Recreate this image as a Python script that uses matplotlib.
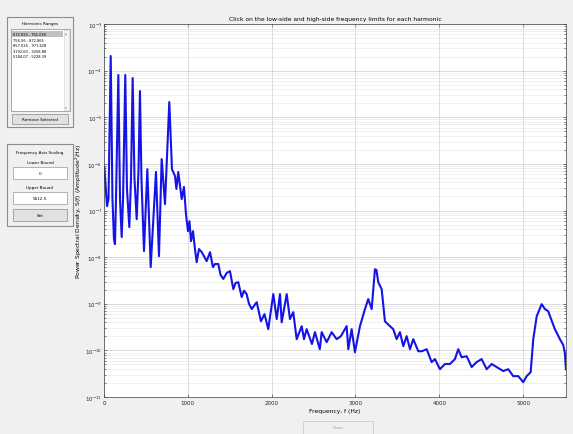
import numpy as np
import matplotlib
matplotlib.use('Agg')
import matplotlib.pyplot as plt
import matplotlib.ticker as mtick
from matplotlib.patches import Rectangle

# PSD (Hz, Amplitude^2/Hz)
freq = [4, 18, 36, 54, 80, 101, 119, 131, 143, 171, 191, 211, 227, 254, 274,
        302, 322, 342, 364, 390, 412, 429, 447, 477, 517, 557, 620, 656, 688,
        728, 779, 811, 847, 864, 886, 927, 954, 978, 1002, 1020, 1038, 1062,
        1085, 1106, 1133, 1166, 1193, 1225, 1265, 1300, 1324, 1364, 1390,
        1423, 1465, 1503, 1543, 1570, 1602, 1643, 1670, 1702, 1730, 1762,
        1822, 1873, 1915, 1960, 2020, 2061, 2100, 2120, 2180, 2219, 2258,
        2299, 2359, 2386, 2418, 2481, 2517, 2575, 2597, 2657, 2716, 2776,
        2827, 2895, 2915, 2955, 2994, 3054, 3114, 3153, 3194, 3233, 3251,
        3272, 3313, 3352, 3412, 3451, 3492, 3531, 3571, 3611, 3651, 3690,
        3750, 3794, 3850, 3909, 3949, 4008, 4068, 4128, 4187, 4227, 4267,
        4327, 4387, 4446, 4506, 4566, 4625, 4685, 4764, 4823, 4883, 4943,
        5002, 5043, 5091, 5122, 5163, 5222, 5261, 5300, 5380, 5440, 5480,
        5500, 5512]
psd = [8.5e-7, 3.7e-7, 1.24e-7, 1.76e-7, 2.06e-4, 1.76e-7, 2.4e-8, 1.9e-8,
       1.76e-7, 8.05e-5, 1.76e-7, 2.7e-8, 1.76e-7, 8.05e-5, 2.9e-7, 4.4e-8,
       4.7e-7, 6.93e-5, 4.7e-7, 6.5e-8, 7.7e-7, 3.65e-5, 4.7e-7, 1.35e-8,
       7.7e-7, 6.1e-9, 6.7e-7, 1.05e-8, 1.27e-6, 1.37e-7, 2.12e-5, 7.7e-7,
       5.5e-7, 2.9e-7, 6.7e-7, 1.76e-7, 3.2e-7, 8.4e-8, 3.6e-8, 5.9e-8,
       2.2e-8, 3.6e-8, 1.5e-8, 7.8e-9, 1.49e-8, 1.28e-8, 1.05e-8, 8.2e-9,
       1.28e-8, 6.1e-9, 7.1e-9, 7.1e-9, 4.2e-9, 3.4e-9, 4.6e-9, 5.0e-9,
       2.06e-9, 2.8e-9, 2.9e-9, 1.39e-9, 1.9e-9, 1.61e-9, 1.0e-9, 7.7e-10,
       1.08e-9, 4.2e-10, 6.0e-10, 2.85e-10, 1.61e-9, 4.7e-10, 1.61e-9,
       4.0e-10, 1.61e-9, 4.7e-10, 6.6e-10, 1.74e-10, 3.3e-10, 1.74e-10,
       2.85e-10, 1.37e-10, 2.46e-10, 1.06e-10, 2.46e-10, 1.5e-10, 2.46e-10,
       1.74e-10, 2.02e-10, 3.3e-10, 1.06e-10, 2.85e-10, 9.1e-11, 3.3e-10,
       7.7e-10, 1.26e-9, 7.7e-10, 5.5e-9, 5.3e-9, 2.9e-9, 2.06e-9, 4.2e-10,
       3.3e-10, 2.85e-10, 1.74e-10, 2.46e-10, 1.23e-10, 2.02e-10, 1.06e-10,
       1.74e-10, 9.6e-11, 9.6e-11, 1.06e-10, 5.6e-11, 6.5e-11, 3.95e-11,
       5.1e-11, 5.1e-11, 6.5e-11, 1.06e-10, 7.1e-11, 7.5e-11, 4.4e-11,
       5.6e-11, 6.5e-11, 3.95e-11, 5.1e-11, 4.4e-11, 3.6e-11, 3.95e-11,
       2.8e-11, 2.8e-11, 2.08e-11, 2.8e-11, 3.4e-11, 1.74e-10, 5.4e-10,
       9.8e-10, 7.7e-10, 6.9e-10, 2.85e-10, 1.74e-10, 1.3e-10, 8.5e-11,
       3.95e-11]

harmonic_ranges = ['672.923 - 761.056', '756.56 - 872.865', '857.025 - 971.628',
                   '3192.60 - 3258.88', '5184.07 - 5228.39']
x_ticks = [0, 1000, 2000, 3000, 4000, 5000]
lower_bound = 0
upper_bound = 5512.5


def box(g, x0, y0, x1, y1, face='none', edge='#a0a0a0', lw=0.6):
    g.add_patch(Rectangle((x0, y0), x1 - x0, y1 - y0, facecolor=face,
                          edgecolor=edge, lw=lw))


def main():
    fig = plt.figure(figsize=(5.73, 4.35), dpi=100, facecolor='#f0f0f0')

    # gui controls, laid out in screen pixels
    g = fig.add_axes([0, 0, 1, 1])
    g.set_xlim(0, 573)
    g.set_ylim(435, 0)
    g.axis('off')
    fs = 3.0

    # harmonic ranges panel
    box(g, 7, 18, 73, 128, edge='#8c8c8c', lw=0.8)
    g.text(40, 24, 'Harmonic Ranges', fontsize=fs, ha='center', va='center')
    box(g, 11, 30, 70, 112, face='white', edge='#9a9a9a')
    box(g, 12, 32, 63, 37.5, face='#c0c0c0', edge='none')
    box(g, 63.5, 31, 69, 111, face='#f4f4f4', edge='#d0d0d0', lw=0.4)
    g.text(66.2, 34, '\u25b4', fontsize=2.5, ha='center', va='center', color='#606060')
    g.text(66.2, 108.5, '\u25be', fontsize=2.5, ha='center', va='center', color='#606060')
    for i, s in enumerate(harmonic_ranges):
        g.text(13, 35 + i * 5.6, s, fontsize=2.6, ha='left', va='center')
    box(g, 12, 115, 68, 125, face='#e1e1e1', edge='#9a9a9a')
    g.text(40, 120, 'Remove Selected', fontsize=fs, ha='center', va='center')

    # frequency axis scaling panel
    box(g, 7, 145, 73, 227, edge='#8c8c8c', lw=0.8)
    g.text(40, 153, 'Frequency Axis Scaling', fontsize=fs, ha='center', va='center')
    g.text(40, 163, 'Lower Bound', fontsize=fs, ha='center', va='center')
    box(g, 13, 168, 67, 180, face='white', edge='#a8a8a8')
    g.text(40, 174, str(lower_bound), fontsize=fs, ha='center', va='center')
    g.text(40, 188, 'Upper Bound', fontsize=fs, ha='center', va='center')
    box(g, 13, 193, 67, 205, face='white', edge='#a8a8a8')
    g.text(40, 199, str(upper_bound), fontsize=fs, ha='center', va='center')
    box(g, 13, 210, 67, 222, face='#e1e1e1', edge='#9a9a9a')
    g.text(40, 216, 'Set', fontsize=fs, ha='center', va='center')

    # done button
    box(g, 303, 422, 373, 434.5, face='#f0f0f0', edge='#cccccc')
    g.text(338, 428.5, 'Done', fontsize=fs, ha='center', va='center', color='#9a9a9a')

    # psd plot
    ax = fig.add_axes([104 / 573, 1 - 398 / 435, 462 / 573, 373 / 435])
    ax.set_facecolor('white')
    ax.semilogy(freq, psd, color='#1414e6', lw=1.5)
    ax.set_xlim(lower_bound, upper_bound)
    ax.set_ylim(1e-11, 1e-3)
    ax.set_xticks(x_ticks)
    ax.yaxis.set_major_locator(mtick.LogLocator(base=10, numticks=20))
    ax.yaxis.set_minor_locator(mtick.LogLocator(base=10, subs=np.arange(2, 10), numticks=20))
    ax.yaxis.set_minor_formatter(mtick.NullFormatter())
    ax.grid(True, which='major', color='#cfcfcf', lw=0.5)
    ax.grid(True, which='minor', axis='y', color='#e4e4e4', lw=0.4)
    ax.set_axisbelow(True)
    ax.tick_params(which='both', direction='in', top=True, right=True,
                   labelsize=4, length=2, width=0.4, pad=2, colors='#262626')
    ax.tick_params(axis='y', pad=1.5)
    ax.tick_params(which='minor', length=1.2)
    for sp in ax.spines.values():
        sp.set_linewidth(0.5)
        sp.set_color('#404040')

    ax.set_title('Click on the low-side and high-side frequency limits for each harmonic',
                 fontsize=4.3, pad=3)
    ax.set_xlabel('Frequency, f (Hz)', fontsize=4.3, labelpad=2)
    ax.set_ylabel('Power Spectral Density, S(f) (Amplitude$^2$/Hz)', fontsize=4.3, labelpad=0.5)

    fig.savefig('out.png', dpi=100, facecolor=fig.get_facecolor())


if __name__ == "__main__":
    main()
